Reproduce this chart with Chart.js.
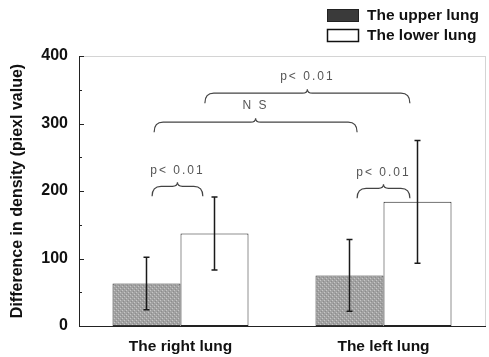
<!DOCTYPE html>
<html>
<head>
<meta charset="utf-8">
<script src="https://cdn.jsdelivr.net/npm/chart.js@4.4.1/dist/chart.umd.min.js"></script>
<style>
  html, body { margin: 0; padding: 0; background: #fff; }
  #wrap { width: 489px; height: 357px; }
</style>
</head>
<body>
<div id="wrap"><canvas id="c" width="489" height="357"></canvas></div>
<script>
// ---- data ----
const categories = ['The right lung', 'The left lung'];
const seriesNames = ['The upper lung', 'The lower lung'];
const upperMean = [63, 75];
const upperSD = [39, 53];
const lowerMean = [137, 184];
const lowerSD = [54, 91];
const yTickValues = [0, 50, 100, 150, 200, 250, 300, 350, 400];
const yLabelValues = [0, 100, 200, 300, 400];
const yTitle = 'Difference in density (piexl value)';

// significance braces (x in category units, level in y units)
const braceLabels = ['p< 0.01', 'p< 0.01', 'N S', 'p< 0.01'];
const braceStart = [-0.14, 0.87, -0.13, 0.12];
const braceEnd = [0.11, 1.13, 0.87, 1.13];
const braceLevel = [207, 204, 302, 345];

// ---- styles ----
function makePattern() {
  const p = document.createElement('canvas');
  p.width = 4; p.height = 4;
  const g = p.getContext('2d');
  g.fillStyle = '#a2a2a2';
  g.fillRect(0, 0, 4, 4);
  g.fillStyle = '#c6c6c6';
  g.fillRect(0, 0, 1, 1);
  g.fillRect(2, 2, 1, 1);
  g.fillStyle = '#8c8c8c';
  g.fillRect(1, 3, 1, 1);
  g.fillRect(3, 1, 1, 1);
  return document.getElementById('c').getContext('2d').createPattern(p, 'repeat');
}
const FONT = '"Liberation Sans", Arial, sans-serif';

const errorBars = {
  id: 'errorBars',
  afterDatasetsDraw(chart) {
    const ctx = chart.ctx;
    const y = chart.scales.y;
    const means = [upperMean, lowerMean];
    const sds = [upperSD, lowerSD];
    ctx.save();
    ctx.strokeStyle = '#1a1a1a';
    ctx.lineWidth = 1.5;
    chart.data.datasets.forEach((ds, i) => {
      const meta = chart.getDatasetMeta(i);
      meta.data.forEach((el, j) => {
        const x = el.x;
        const top = y.getPixelForValue(means[i][j] + sds[i][j]);
        const bot = y.getPixelForValue(means[i][j] - sds[i][j]);
        ctx.beginPath();
        ctx.moveTo(x, top); ctx.lineTo(x, bot);
        ctx.moveTo(x - 3, top); ctx.lineTo(x + 3, top);
        ctx.moveTo(x - 3, bot); ctx.lineTo(x + 3, bot);
        ctx.stroke();
      });
    });
    ctx.restore();
  }
};

const extras = {
  id: 'extras',
  afterDraw(chart) {
    const ctx = chart.ctx;
    const ca = chart.chartArea;
    const xs = chart.scales.x;
    const ys = chart.scales.y;
    ctx.save();
    // faint frame top/right
    ctx.strokeStyle = '#d4d4d4';
    ctx.lineWidth = 1;
    ctx.beginPath();
    ctx.moveTo(ca.left, ca.top + 0.5); ctx.lineTo(ca.right, ca.top + 0.5);
    ctx.moveTo(ca.right + 0.5, ca.top); ctx.lineTo(ca.right + 0.5, ca.bottom);
    ctx.stroke();
    // inward tick marks
    ctx.strokeStyle = '#222';
    ctx.beginPath();
    yTickValues.forEach(v => {
      const py = Math.round(ys.getPixelForValue(v)) + 0.5;
      const len = yLabelValues.includes(v) ? 5 : 3;
      ctx.moveTo(ca.left, py); ctx.lineTo(ca.left + len, py);
    });
    ctx.stroke();

    // braces
    ctx.strokeStyle = '#444';
    ctx.lineWidth = 1.2;
    ctx.fillStyle = '#555';
    ctx.font = '12px ' + FONT;
    ctx.textAlign = 'center';
    ctx.textBaseline = 'middle';
    braceLabels.forEach((lab, k) => {
      const x1 = xs.getPixelForValue(braceStart[k]);
      const x2 = xs.getPixelForValue(braceEnd[k]);
      const yl = ys.getPixelForValue(braceLevel[k]);
      const xm = (x1 + x2) / 2;
      const d = 10;
      ctx.beginPath();
      ctx.moveTo(x1, yl + d);
      ctx.quadraticCurveTo(x1, yl, x1 + 9, yl);
      ctx.lineTo(xm - 5, yl);
      ctx.quadraticCurveTo(xm, yl, xm, yl - 4);
      ctx.quadraticCurveTo(xm, yl, xm + 5, yl);
      ctx.lineTo(x2 - 9, yl);
      ctx.quadraticCurveTo(x2, yl, x2, yl + d);
      ctx.stroke();
      if ('letterSpacing' in ctx) ctx.letterSpacing = '2px';
      ctx.fillText(lab, xm, yl - 16);
      if ('letterSpacing' in ctx) ctx.letterSpacing = '0px';
    });

    // legend
    const lx = 327, lw = 31, lh = 12;
    const ly = [9, 29];
    ctx.lineWidth = 1;
    ctx.font = 'bold 15.5px ' + FONT;
    ctx.textAlign = 'left';
    ctx.textBaseline = 'middle';
    seriesNames.forEach((name, i) => {
      if (i === 0) {
        ctx.fillStyle = '#3a3a3a';
        ctx.fillRect(lx, ly[i], lw, lh);
        ctx.strokeStyle = '#222';
        ctx.strokeRect(lx + 0.5, ly[i] + 0.5, lw, lh);
      } else {
        ctx.fillStyle = '#fff';
        ctx.fillRect(lx, ly[i], lw, lh);
        ctx.strokeStyle = '#111';
        ctx.lineWidth = 1.5;
        ctx.strokeRect(lx + 0.5, ly[i] + 0.5, lw, lh);
        ctx.lineWidth = 1;
      }
      ctx.fillStyle = '#111';
      ctx.fillText(name, lx + lw + 9, ly[i] + lh / 2 + 1);
    });
    ctx.restore();
  }
};

const pattern = makePattern();

new Chart(document.getElementById('c'), {
  type: 'bar',
  data: {
    labels: categories,
    datasets: [
      { label: seriesNames[0], data: upperMean, backgroundColor: pattern,
        borderColor: '#333', borderWidth: 1, borderSkipped: false },
      { label: seriesNames[1], data: lowerMean, backgroundColor: '#ffffff',
        borderColor: '#222', borderWidth: 1, borderSkipped: false }
    ]
  },
  options: {
    responsive: false,
    animation: false,
    devicePixelRatio: 1,
    layout: { padding: { top: 56, right: 4, left: 0, bottom: 0 } },
    plugins: { legend: { display: false }, title: { display: false }, tooltip: { enabled: false } },
    datasets: { bar: { barPercentage: 1.0, categoryPercentage: 0.67 } },
    scales: {
      x: {
        type: 'category',
        offset: true,
        grid: { display: false, drawTicks: false },
        border: { display: true, color: '#222', width: 1 },
        ticks: { color: '#111', font: { family: FONT, size: 15.5, weight: 'bold' }, padding: 11 },
        afterFit(s) { s.height = 31; }
      },
      y: {
        min: 0, max: 400,
        afterBuildTicks(s) { s.ticks = yTickValues.map(v => ({ value: v })); },
        grid: { display: false, drawTicks: false },
        border: { display: true, color: '#222', width: 1 },
        ticks: {
          color: '#111', padding: 11, autoSkip: false,
          font: { family: FONT, size: 16, weight: 'bold' },
          callback: v => yLabelValues.includes(v) ? String(v) : ''
        },
        title: {
          display: true, text: yTitle, color: '#111',
          font: { family: FONT, size: 16, weight: 'bold' },
          padding: { top: 8, bottom: 0 }
        },
        afterFit(s) { s.width = 79; }
      }
    }
  },
  plugins: [errorBars, extras]
});
</script>
</body>
</html>
